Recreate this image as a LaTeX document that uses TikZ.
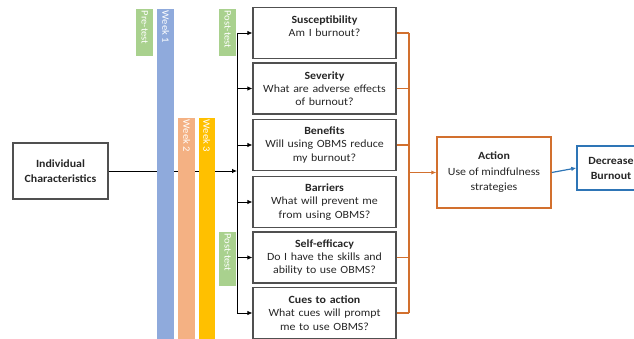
\documentclass[tikz,border=0pt]{standalone}
\usepackage{fontspec}
\setmainfont{Carlito}[FakeStretch=1.08]
\usepackage{xcolor}
\usetikzlibrary{arrows.meta}
\definecolor{boxgray}{HTML}{505050}
\definecolor{hbmorange}{HTML}{D2702E}
\definecolor{hbmblue}{HTML}{2E75B6}
\definecolor{testgreen}{HTML}{A9D18E}
\definecolor{weekblue}{HTML}{8FAADC}
\definecolor{weeksalmon}{HTML}{F4B183}
\definecolor{weekyellow}{HTML}{FFC000}

\begin{document}
\begin{tikzpicture}[x=1pt, y=-1pt, >={Latex[length=5pt,width=4.5pt]},
  qbox/.style={draw=boxgray, line width=1.2pt, minimum width=143pt, minimum height=51pt,
    text width=135pt, align=center, inner sep=0pt, text=black!85,
    font=\fontsize{11}{13.3}\selectfont},
  bar/.style={anchor=north west, inner sep=0pt, minimum width=17pt},
  barlab/.style={rotate=-90, anchor=west, inner sep=0pt, text=white,
    font=\fontsize{9.8}{10}\selectfont}]
\useasboundingbox (0,0) rectangle (634,339);
\clip (0,0) rectangle (634,339);
% left box and the line under the bars
\node[draw=boxgray, line width=1.2pt, minimum width=95pt, minimum height=56pt, align=center,
  text=black!85, font=\fontsize{11}{15}\selectfont\bfseries] (ind) at (60.5,171)
  {Individual\\Characteristics};
\coordinate (jn) at (237,171);
\draw[->, line width=0.8pt] (ind.east) -- (jn);
% time bars
\node[bar, fill=testgreen, minimum height=47pt] (pre) at (136,9) {};
\node[bar, fill=weekblue, minimum height=335pt] (wk1) at (157,9) {};
\node[bar, fill=testgreen, minimum height=47pt] (posta) at (219,9) {};
\node[bar, fill=weeksalmon, minimum height=225pt] (wk2) at (178,118) {};
\node[bar, fill=weekyellow, minimum width=16pt, minimum height=225pt] (wk3) at (198.5,118) {};
\node[bar, fill=testgreen, minimum height=54pt] (postb) at (219,232) {};
\node[barlab] (prelab) at ([yshift=-1.5pt]pre.north) {Pre-test};
\node[barlab] (wk1lab) at ([yshift=-1.5pt]wk1.north) {Week 1};
\node[barlab] (postalab) at ([yshift=-1.5pt]posta.north) {Post-test};
\node[barlab] (wk2lab) at ([yshift=-1.5pt]wk2.north) {Week 2};
\node[barlab] (wk3lab) at ([yshift=-1.5pt]wk3.north) {Week 3};
\node[barlab] (postblab) at ([yshift=-1.5pt]postb.north) {Post-test};
% health belief boxes
\node[qbox] (susc) at (324.5,33) {\textbf{Susceptibility}\\Am I burnout?\\ \mbox{}};
\node[qbox] (sev) at (324.5,88.5) {\textbf{Severity}\\What are adverse effects\\of burnout?};
\node[qbox] (ben) at (324.5,145) {\textbf{Benefits}\\Will using OBMS reduce\\my burnout?};
\node[qbox] (barr) at (324.5,202) {\textbf{Barriers}\\What will prevent me\\from using OBMS?};
\node[qbox] (selfe) at (324.5,257.5) {\textbf{Self-efficacy}\\Do I have the skills and\\ability to use OBMS?};
\node[qbox] (cues) at (324.5,313) {\textbf{Cues to action}\\What cues will prompt\\me to use OBMS?};
\draw[line width=0.8pt] (susc.west -| jn) -- (cues.west -| jn);
\foreach \b in {susc,sev,ben,barr,selfe,cues}
  \draw[->, line width=0.8pt] (\b.west -| jn) -- (\b.west);
% action and outcome
\node[draw=hbmorange, line width=1.5pt, minimum width=114pt, minimum height=71pt, align=center,
  text=black!85, font=\fontsize{11}{15.5}\selectfont] (act) at (494,172.5)
  {\textbf{Action}\\Use of mindfulness\\strategies};
\node[draw=hbmblue, line width=1.5pt, minimum width=68pt, minimum height=44pt, align=center,
  text=black!85, font=\fontsize{11}{15}\selectfont\bfseries] (dec) at (611,168)
  {Decrease\\Burnout};
\coordinate (oj) at (409,172.5);
\draw[hbmorange, line width=1.2pt] (susc.east -| oj) -- (cues.east -| oj);
\foreach \b in {susc,sev,ben,selfe,cues}
  \draw[hbmorange, line width=1.2pt] (\b.east) -- (\b.east -| oj);
\draw[->, hbmorange, line width=1.2pt] (oj) -- (act.west);
\draw[->, hbmblue, line width=1.2pt] (act.east) -- (dec.west);
\end{tikzpicture}
\end{document}
